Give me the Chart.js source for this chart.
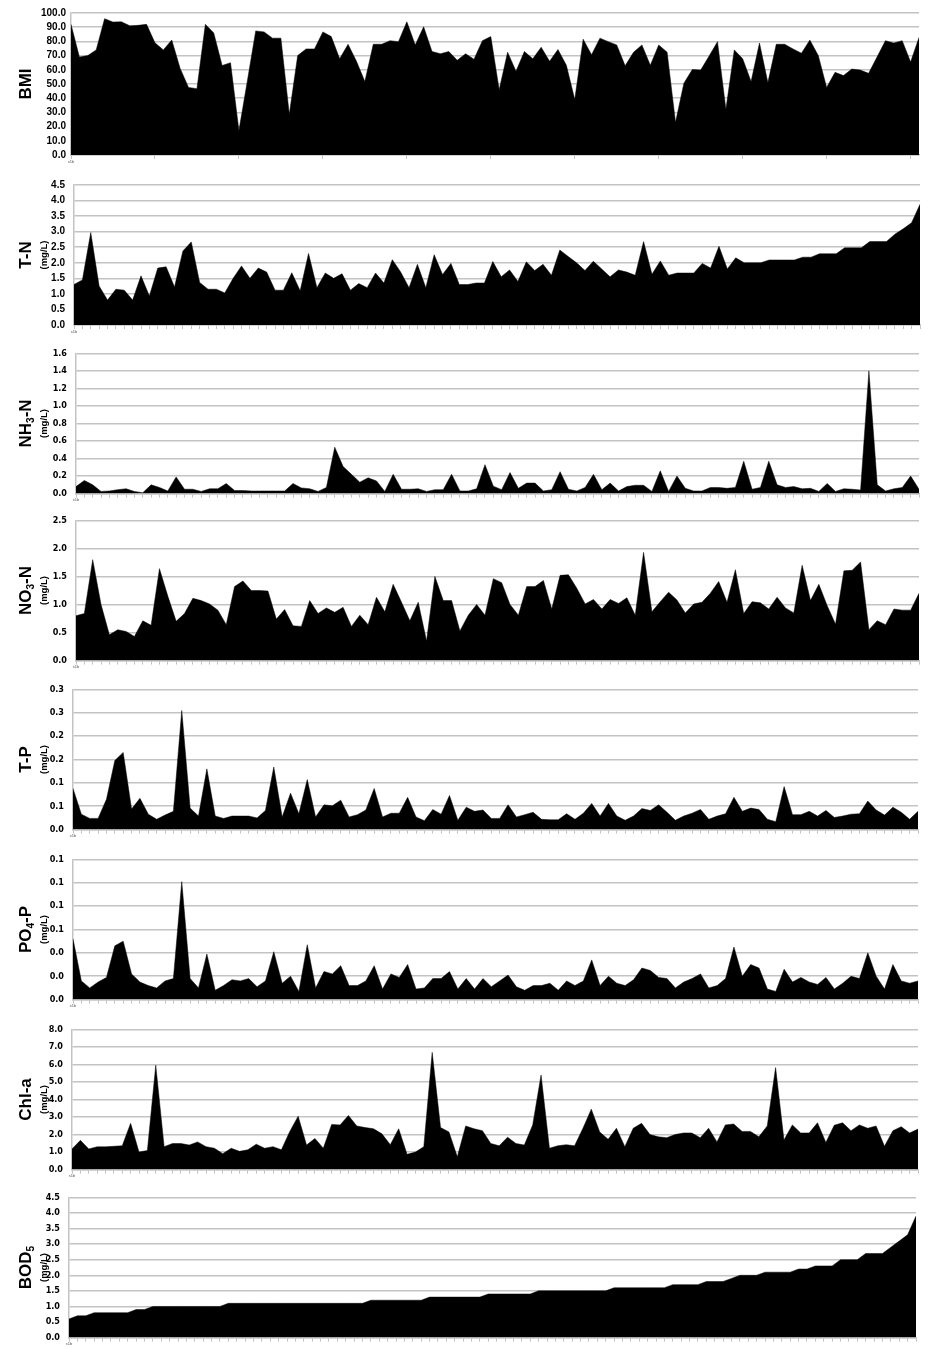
<!DOCTYPE html>
<html>
<head>
<meta charset="utf-8">
<title>Water quality profiles</title>
<script src="https://cdn.jsdelivr.net/npm/chart.js@4.4.0/dist/chart.umd.min.js"></script>
<style>
    body { margin: 0; background: #fff; width: 932px; height: 1349px; position: relative; overflow: hidden; }
    canvas { position: absolute; left: 0; }
</style>
</head>
<body>
<script>
// 102 sampling sites, ordered by BOD5
const firstSite = 's1b';

const bmi = [92, 69, 70, 74, 96, 93.6, 93.8, 91, 91.3, 92, 79, 74, 81, 61, 47.6, 46.7, 92, 86, 63, 65,
    17.2, 52, 87.4, 86.7, 82.3, 82.3, 28.7, 70, 74.7, 74.7, 86.7, 83.4, 67.8, 78, 66, 51.7, 78, 78, 80.5, 79.8,
    93.8, 77.5, 90.3, 72.9, 71.3, 72.9, 66.7, 71.3, 67.4, 80.5, 83.4, 46, 72.4, 59, 72.9, 67.8, 75.9, 66, 74.3, 63.2,
    39, 81.6, 70.6, 82.3, 79.8, 77.5, 62.8, 72.4, 77.5, 63.2, 77.5, 72.4, 23, 50.6, 60.2, 59.8, 69.7, 79.8, 32.2, 74,
    67.8, 51.7, 78.9, 51, 78, 78, 74.7, 71.7, 80.9, 70.1, 47.6, 58.2, 55.9, 60.5, 59.8, 57.5, 69, 80.5, 78.9, 80.5,
    65.5, 82.8];

const tn = [1.3, 1.45, 2.97, 1.25, 0.8, 1.15, 1.12, 0.8, 1.58, 0.93, 1.83, 1.87, 1.22, 2.38, 2.67, 1.37, 1.15, 1.15, 1.03, 1.5,
    1.9, 1.5, 1.83, 1.7, 1.12, 1.12, 1.68, 1.1, 2.3, 1.2, 1.67, 1.5, 1.65, 1.12, 1.33, 1.2, 1.67, 1.35, 2.1, 1.7,
    1.2, 1.95, 1.2, 2.26, 1.62, 1.98, 1.3, 1.3, 1.35, 1.35, 2.04, 1.55, 1.77, 1.4, 2.03, 1.75, 1.95, 1.6, 2.41, 2.2,
    2.0, 1.75, 2.05, 1.8, 1.55, 1.77, 1.7, 1.6, 2.68, 1.63, 2.06, 1.6, 1.67, 1.67, 1.67, 1.98, 1.83, 2.53, 1.8, 2.16,
    2.0, 2.0, 2.0, 2.09, 2.09, 2.09, 2.09, 2.18, 2.18, 2.29, 2.29, 2.29, 2.48, 2.48, 2.48, 2.68, 2.68, 2.68, 2.92, 3.09,
    3.29, 3.88];

const nh3 = [0.08, 0.15, 0.1, 0.025, 0.03, 0.045, 0.055, 0.025, 0.01, 0.1, 0.07, 0.03, 0.19, 0.05, 0.05, 0.025, 0.055, 0.055, 0.115, 0.035,
    0.035, 0.03, 0.03, 0.03, 0.03, 0.03, 0.115, 0.065, 0.055, 0.025, 0.07, 0.53, 0.31, 0.22, 0.13, 0.18, 0.145, 0.025, 0.22, 0.05,
    0.05, 0.055, 0.025, 0.045, 0.045, 0.22, 0.03, 0.03, 0.055, 0.33, 0.085, 0.045, 0.24, 0.06, 0.12, 0.12, 0.03, 0.045, 0.25, 0.05,
    0.03, 0.07, 0.22, 0.045, 0.12, 0.03, 0.08, 0.095, 0.095, 0.025, 0.26, 0.025, 0.2, 0.06, 0.03, 0.03, 0.07, 0.07, 0.06, 0.07,
    0.37, 0.05, 0.07, 0.37, 0.1, 0.07, 0.08, 0.055, 0.06, 0.025, 0.115, 0.025, 0.055, 0.05, 0.04, 1.4, 0.1, 0.03, 0.055, 0.07,
    0.2, 0.05];

const no3 = [0.8, 0.84, 1.8, 1.0, 0.46, 0.55, 0.52, 0.43, 0.71, 0.63, 1.64, 1.15, 0.7, 0.84, 1.11, 1.07, 1.01, 0.9, 0.64, 1.32,
    1.42, 1.25, 1.25, 1.24, 0.74, 0.91, 0.62, 0.61, 1.07, 0.84, 0.94, 0.86, 0.95, 0.61, 0.81, 0.64, 1.13, 0.87, 1.36, 1.04,
    0.71, 1.04, 0.35, 1.5, 1.07, 1.07, 0.53, 0.81, 1.0, 0.81, 1.46, 1.39, 1.0, 0.81, 1.32, 1.32, 1.43, 0.92, 1.52, 1.53,
    1.29, 1.01, 1.09, 0.92, 1.09, 1.02, 1.12, 0.81, 1.93, 0.87, 1.05, 1.22, 1.08, 0.85, 1.01, 1.04, 1.2, 1.41, 1.04, 1.62,
    0.84, 1.05, 1.03, 0.92, 1.13, 0.94, 0.85, 1.7, 1.07, 1.36, 0.98, 0.65, 1.6, 1.61, 1.76, 0.55, 0.71, 0.64, 0.92, 0.9,
    0.9, 1.2];

const tp = [0.088, 0.033, 0.024, 0.024, 0.065, 0.148, 0.165, 0.044, 0.067, 0.033, 0.022, 0.031, 0.039, 0.255, 0.046, 0.029, 0.13, 0.029, 0.024, 0.029,
    0.029, 0.029, 0.025, 0.041, 0.134, 0.027, 0.078, 0.034, 0.107, 0.027, 0.053, 0.051, 0.063, 0.027, 0.032, 0.042, 0.088, 0.027, 0.035, 0.035,
    0.069, 0.027, 0.019, 0.043, 0.033, 0.073, 0.02, 0.048, 0.039, 0.042, 0.024, 0.024, 0.053, 0.027, 0.032, 0.037, 0.022, 0.021, 0.021, 0.034,
    0.022, 0.035, 0.056, 0.029, 0.056, 0.029, 0.02, 0.029, 0.045, 0.041, 0.053, 0.037, 0.02, 0.029, 0.035, 0.043, 0.022, 0.029, 0.034, 0.069,
    0.039, 0.046, 0.043, 0.022, 0.017, 0.092, 0.032, 0.032, 0.039, 0.029, 0.041, 0.026, 0.029, 0.033, 0.034, 0.061, 0.042, 0.031, 0.048, 0.037,
    0.022, 0.039];

const po4 = [0.052, 0.016, 0.01, 0.015, 0.019, 0.046, 0.05, 0.022, 0.015, 0.012, 0.01, 0.016, 0.018, 0.101, 0.018, 0.01, 0.039, 0.008, 0.012, 0.017,
    0.016, 0.018, 0.011, 0.016, 0.041, 0.014, 0.02, 0.007, 0.047, 0.01, 0.024, 0.022, 0.029, 0.012, 0.012, 0.016, 0.029, 0.009, 0.022, 0.019,
    0.03, 0.009, 0.01, 0.018, 0.018, 0.024, 0.009, 0.018, 0.009, 0.018, 0.011, 0.016, 0.021, 0.011, 0.008, 0.012, 0.012, 0.014, 0.008, 0.016,
    0.012, 0.016, 0.034, 0.012, 0.02, 0.014, 0.012, 0.017, 0.027, 0.025, 0.019, 0.018, 0.01, 0.015, 0.018, 0.022, 0.01, 0.012, 0.018, 0.045,
    0.02, 0.03, 0.027, 0.009, 0.007, 0.026, 0.015, 0.019, 0.015, 0.013, 0.019, 0.009, 0.014, 0.02, 0.018, 0.04, 0.02, 0.009, 0.03, 0.016,
    0.014, 0.016];

const chla = [1.18, 1.67, 1.18, 1.3, 1.3, 1.33, 1.36, 2.64, 1.0, 1.09, 5.96, 1.31, 1.49, 1.49, 1.4, 1.58, 1.31, 1.22, 0.91, 1.22,
    1.04, 1.13, 1.45, 1.22, 1.31, 1.13, 2.18, 3.05, 1.4, 1.78, 1.22, 2.58, 2.55, 3.09, 2.49, 2.4, 2.33, 2.04, 1.42, 2.33,
    0.87, 1.0, 1.31, 6.69, 2.4, 2.15, 0.73, 2.49, 2.33, 2.22, 1.49, 1.36, 1.85, 1.49, 1.4, 2.55, 5.4, 1.22, 1.36, 1.42,
    1.36, 2.36, 3.45, 2.15, 1.73, 2.36, 1.31, 2.36, 2.64, 2.0, 1.87, 1.82, 2.0, 2.09, 2.09, 1.82, 2.36, 1.58, 2.55, 2.6,
    2.18, 2.18, 1.87, 2.49, 5.82, 1.69, 2.55, 2.09, 2.09, 2.67, 1.55, 2.53, 2.67, 2.22, 2.55, 2.36, 2.49, 1.33, 2.22, 2.45,
    2.09, 2.31];

const bod5 = [0.6, 0.7, 0.7, 0.8, 0.8, 0.8, 0.8, 0.8, 0.9, 0.9, 1.0, 1.0, 1.0, 1.0, 1.0, 1.0, 1.0, 1.0, 1.0, 1.1,
    1.1, 1.1, 1.1, 1.1, 1.1, 1.1, 1.1, 1.1, 1.1, 1.1, 1.1, 1.1, 1.1, 1.1, 1.1, 1.1, 1.2, 1.2, 1.2, 1.2,
    1.2, 1.2, 1.2, 1.3, 1.3, 1.3, 1.3, 1.3, 1.3, 1.3, 1.4, 1.4, 1.4, 1.4, 1.4, 1.4, 1.5, 1.5, 1.5, 1.5,
    1.5, 1.5, 1.5, 1.5, 1.5, 1.6, 1.6, 1.6, 1.6, 1.6, 1.6, 1.6, 1.7, 1.7, 1.7, 1.7, 1.8, 1.8, 1.8, 1.9,
    2.0, 2.0, 2.0, 2.1, 2.1, 2.1, 2.1, 2.2, 2.2, 2.3, 2.3, 2.3, 2.5, 2.5, 2.5, 2.7, 2.7, 2.7, 2.9, 3.1,
    3.3, 3.9];

// y-axis tick labels, bottom to top
const bmiTicks = ['0.0', '10.0', '20.0', '30.0', '40.0', '50.0', '60.0', '70.0', '80.0', '90.0', '100.0'];
const tnTicks = ['0.0', '0.5', '1.0', '1.5', '2.0', '2.5', '3.0', '3.5', '4.0', '4.5'];
const nh3Ticks = ['0.0', '0.2', '0.4', '0.6', '0.8', '1.0', '1.2', '1.4', '1.6'];
const no3Ticks = ['0.0', '0.5', '1.0', '1.5', '2.0', '2.5'];
const tpTicks = ['0.0', '0.1', '0.1', '0.2', '0.2', '0.3', '0.3'];
const po4Ticks = ['0.0', '0.0', '0.0', '0.1', '0.1', '0.1', '0.1'];
const chlaTicks = ['0.0', '1.0', '2.0', '3.0', '4.0', '5.0', '6.0', '7.0', '8.0'];
const bodTicks = ['0.0', '0.5', '1.0', '1.5', '2.0', '2.5', '3.0', '3.5', '4.0', '4.5'];

const labels = bod5.map((v, i) => i === 0 ? firstSite : '');

const GRID = '#c3c3c3';
const FONT = '"Liberation Sans", Arial, sans-serif';
const NARROW = '"Liberation Sans Narrow", "DejaVu Sans Condensed", "Liberation Sans", Arial, sans-serif';

const panels = [
    { data: bmi, max: 100, step: 10, ticks: bmiTicks, title: [['BMI']], unit: false, left: 71, right: 919, top: 10, bottom: 155, major: 10, pad: 5, narrow: false },
    { data: tn, max: 4.5, step: 0.5, ticks: tnTicks, title: [['T-N']], unit: true, left: 74, right: 920, top: 178, bottom: 326, major: 1, pad: 9, narrow: false },
    { data: nh3, max: 1.6, step: 0.2, ticks: nh3Ticks, title: [['NH'], ['3', true], ['-N']], unit: true, left: 76, right: 919, top: 347, bottom: 494, major: 1, pad: 9, narrow: true },
    { data: no3, max: 2.5, step: 0.5, ticks: no3Ticks, title: [['NO'], ['3', true], ['-N']], unit: true, left: 76, right: 919, top: 514, bottom: 661, major: 1, pad: 9, narrow: true },
    { data: tp, max: 0.3, step: 0.05, ticks: tpTicks, title: [['T-P']], unit: true, left: 73, right: 918, top: 683, bottom: 830, major: 1, pad: 9, narrow: true },
    { data: po4, max: 0.12, step: 0.02, ticks: po4Ticks, title: [['PO'], ['4', true], ['-P']], unit: true, left: 73, right: 918, top: 853, bottom: 1000, major: 1, pad: 9, narrow: true },
    { data: chla, max: 8, step: 1, ticks: chlaTicks, title: [['Chl-a']], unit: true, left: 72, right: 918, top: 1023, bottom: 1170, major: 1, pad: 9, narrow: true },
    { data: bod5, max: 4.5, step: 0.5, ticks: bodTicks, title: [['BOD'], ['5', true]], unit: true, left: 69, right: 916, top: 1191, bottom: 1338, major: 1, pad: 9, narrow: true }
];

function drawRotated(ctx, parts, x, y, size) {
    ctx.save();
    ctx.translate(x, y);
    ctx.rotate(-Math.PI / 2);
    ctx.fillStyle = '#000';
    ctx.textBaseline = 'middle';
    ctx.textAlign = 'left';
    const fonts = parts.map(p => 'bold ' + (p[1] ? size * 0.6 : size) + 'px ' + FONT);
    const widths = parts.map((p, i) => { ctx.font = fonts[i]; return ctx.measureText(p[0]).width; });
    let pos = -widths.reduce((a, b) => a + b, 0) / 2;
    parts.forEach((p, i) => {
        ctx.font = fonts[i];
        ctx.fillText(p[0], pos, p[1] ? size * 0.3 : 0);
        pos += widths[i];
    });
    ctx.restore();
}

const sideTitle = {
    id: 'sideTitle',
    afterDraw(chart, args, opts) {
        const area = chart.chartArea;
        const cy = (area.top + area.bottom) / 2;
        drawRotated(chart.ctx, opts.parts, 26, cy, 17);
        if (opts.unit) drawRotated(chart.ctx, [['(mg/L)']], 44, cy, 9.5);
    }
};

const TOP_PAD = 8, X_H = 14;

panels.forEach(p => {
    const canvas = document.createElement('canvas');
    canvas.width = 932;
    canvas.height = TOP_PAD + (p.bottom - p.top) + X_H;
    canvas.style.top = (p.top - TOP_PAD) + 'px';
    document.body.appendChild(canvas);

    new Chart(canvas.getContext('2d'), {
        type: 'line',
        data: {
            labels: labels,
            datasets: [{
                data: p.data,
                fill: 'origin',
                backgroundColor: '#000',
                borderColor: '#000',
                borderWidth: 0.5,
                pointRadius: 0,
                tension: 0
            }]
        },
        options: {
            responsive: false,
            animation: false,
            layout: { padding: { top: TOP_PAD, right: 932 - p.right, left: 0, bottom: 0 } },
            plugins: {
                legend: { display: false },
                tooltip: { enabled: false },
                sideTitle: { parts: p.title, unit: p.unit }
            },
            scales: {
                x: {
                    type: 'category',
                    offset: false,
                    grid: {
                        drawOnChartArea: false,
                        drawTicks: true,
                        tickLength: 4,
                        color: c => (c.index % p.major === 0) ? GRID : 'rgba(0,0,0,0)'
                    },
                    border: { display: true, color: GRID, width: 1.5 },
                    ticks: {
                        autoSkip: false,
                        maxRotation: 0,
                        padding: 0,
                        color: '#555',
                        font: { size: 4, family: FONT },
                        callback: (v, i) => labels[i]
                    },
                    afterFit: s => { s.height = X_H; }
                },
                y: {
                    min: 0,
                    max: p.max,
                    grid: { color: GRID, lineWidth: 1.5, drawTicks: false },
                    border: { display: true, color: GRID, width: 1.5 },
                    ticks: {
                        autoSkip: false,
                        stepSize: p.step,
                        padding: p.pad,
                        color: '#000',
                        font: { size: p.narrow ? 9 : 10, weight: 'bold', family: p.narrow ? NARROW : FONT },
                        callback: (v, i) => p.ticks[i]
                    },
                    afterFit: s => { s.width = p.left; }
                }
            }
        },
        plugins: [sideTitle]
    });
});
</script>
</body>
</html>
